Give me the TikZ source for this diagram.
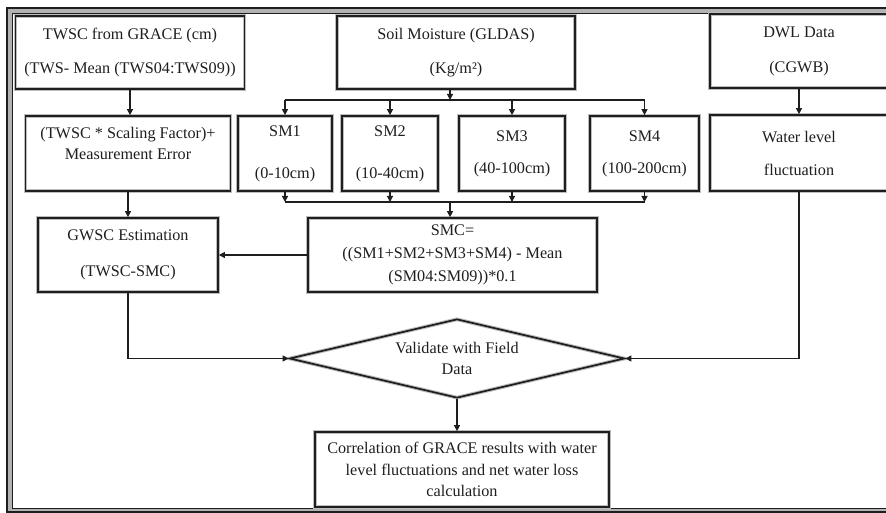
\documentclass[tikz,border=0pt]{standalone}
\usepackage{fontspec}
\setmainfont{Liberation Serif}
\usepackage{tikz}
\usetikzlibrary{arrows.meta, calc, positioning, shapes.geometric}
\definecolor{inkdk}{HTML}{1E1E1E}
\definecolor{halo}{HTML}{BDBDBD}
\tikzset{
  flowbox/.style = {draw=inkdk, line width=1.7pt, align=center, inner sep=0pt,
                    text=inkdk, preaction={draw=halo, line width=3.8pt}},
  decide/.style  = {diamond, aspect=4.2, draw=inkdk, line width=1.7pt, align=center,
                    inner sep=0pt, text=inkdk, preaction={draw=halo, line width=3.8pt}},
  lead/.style    = {font=\fontsize{16.2}{#1}\selectfont},
  lead/.default  = 21,
  link/.style    = {draw=inkdk, line width=1.2pt, -{Triangle[length=6pt, width=6pt]}},
  rail/.style    = {draw=inkdk, line width=1.2pt},
}

\begin{document}
\begin{tikzpicture}[x=1pt, y=-1pt]
  \useasboundingbox (0,0) rectangle (886,513);
  \clip (0,0) rectangle (886,513);
  \fill[black!30, even odd rule] (7,8) rectangle (900,512) (12,13) rectangle (900,508);
  \draw[inkdk, line width=1.6pt] (7,8) rectangle (900,512);
  \draw[inkdk, line width=0.9pt] (12,13) rectangle (900,508);
  \node[flowbox, lead=34, minimum width=229, minimum height=73] (twsc) at (130,52.5)
    {TWSC from GRACE (cm)\\(TWS- Mean (TWS04:TWS09))};
  \node[flowbox, lead=34, minimum width=238, minimum height=73] (soil) at (456,52.5)
    {Soil Moisture (GLDAS)\\(Kg/m²)};
  \node[flowbox, lead=35, minimum width=178, minimum height=74] (dwl) at (799,51)
    {DWL Data\\(CGWB)};
  \node[flowbox, lead=21, minimum width=205, minimum height=75] (scale) at (128,153.5)
    {(TWSC * Scaling Factor)+\\Measurement Error\\\mbox{}};
  \node[flowbox, lead=42, minimum width=94, minimum height=75] (sm1) at (285,153.5)
    {SM1\\(0-10cm)};
  \node[flowbox, lead=42, minimum width=96, minimum height=75] (sm2) at (390,153.5)
    {SM2\\(10-40cm)};
  \node[flowbox, lead=32, minimum width=106, minimum height=75] (sm3) at (512,153.5)
    {SM3\\(40-100cm)};
  \node[flowbox, lead=32, minimum width=109, minimum height=75] (sm4) at (644.5,153.5)
    {SM4\\(100-200cm)};
  \node[flowbox, lead=33, minimum width=178, minimum height=76] (water) at (799,153)
    {Water level\\fluctuation};
  \node[flowbox, lead=36, minimum width=180, minimum height=74] (gwsc) at (128,255)
    {GWSC Estimation\\(TWSC-SMC)};
  \node[flowbox, lead=23, minimum width=289, minimum height=74] (smc) at (452.5,255)
    {SMC=\\((SM1+SM2+SM3+SM4) - Mean\\(SM04:SM09))*0.1};
  \node[decide, lead=21, minimum width=335, minimum height=79] (check) at (457,358.5)
    {Validate with Field\\Data};
  \node[flowbox, lead=21.5, minimum width=294, minimum height=75] (corr) at (462,469.5)
    {Correlation of GRACE results with water\\level fluctuations and net water loss\\calculation};
  \coordinate (fork) at (450,100);
  \coordinate (merge) at (450,202);
  \draw[link] (twsc.south) -- (twsc.south |- scale.north);
  \draw[link] (soil.south -| fork) -- (fork);
  \draw[rail] (sm1.north |- fork) -- (sm4.north |- fork);
  \foreach \s in {sm1,sm2,sm3,sm4} {
    \draw[link] (\s.north |- fork) -- (\s.north);
    \draw[link] (\s.south) -- (\s.south |- merge);
  }
  \draw[rail] (sm1.south |- merge) -- (sm4.south |- merge);
  \draw[link] (merge) -- (merge |- smc.north);
  \draw[link] (dwl.south) -- (water.north);
  \draw[link] (scale.south) -- (scale.south |- gwsc.north);
  \draw[link] (smc.west) -- (smc.west -| gwsc.east);
  \draw[link] (gwsc.south) |- (check.west);
  \draw[link] (water.south) |- (check.east);
  \draw[link] (check.south) -- (check.south |- corr.north);
\end{tikzpicture}
\end{document}
